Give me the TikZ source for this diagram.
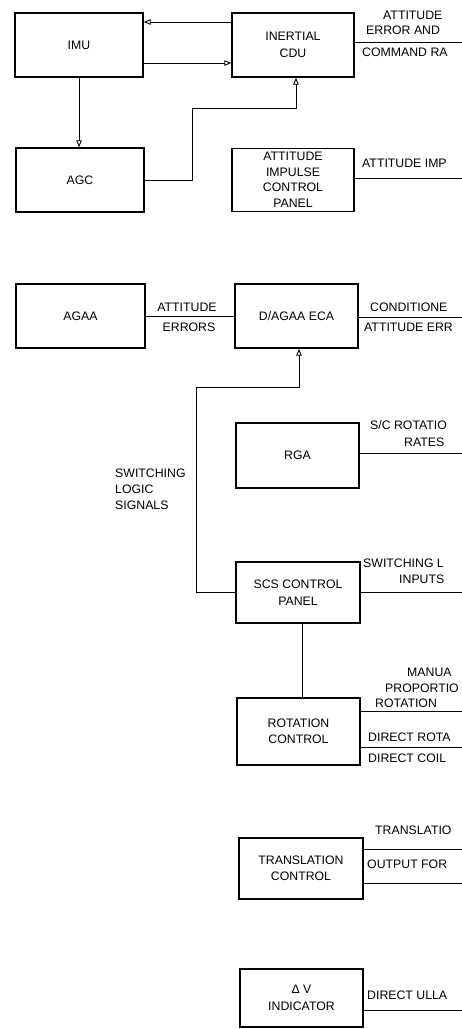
\documentclass[tikz,border=0pt]{standalone}
\usepackage{fontspec}
\setmainfont{Liberation Sans}
\usetikzlibrary{arrows.meta}
\newcommand{\lblfont}{\fontsize{12.3}{16.5}\selectfont}
\begin{document}
\begin{tikzpicture}[x=1pt,y=-1pt,
  box/.style={draw, line width=1.4pt, rectangle, inner sep=0pt, align=center, font=\lblfont},
  lbl/.style={font=\lblfont, inner sep=0pt, text height=8.8pt, text depth=0pt},
  ln/.style={line width=0.9pt},
  arr/.style={ln, -{Triangle[open,length=7pt,width=5.5pt]}}]
\useasboundingbox (0,0) rectangle (462,1029);

% boxes
\node[box, minimum width=128pt, minimum height=64pt] (imu) at (79,45) {IMU};
\node[box, minimum width=122pt, minimum height=64pt] (cdu) at (293,45) {INERTIAL\\CDU};
\node[box, minimum width=128pt, minimum height=64pt] (agc) at (80,180) {AGC};
\node[box, minimum width=122pt, minimum height=63pt, font=\fontsize{12.3}{15.5}\selectfont] (aic) at (293,180) {ATTITUDE\\IMPULSE\\CONTROL\\PANEL};
\node[box, minimum width=129pt, minimum height=64pt] (agaa) at (80.5,316) {AGAA};
\node[box, minimum width=123pt, minimum height=64pt] (eca) at (296.5,316) {D/AGAA ECA};
\node[box, minimum width=123pt, minimum height=65pt] (rga) at (297.5,455.5) {RGA};
\node[box, minimum width=124pt, minimum height=61pt] (scs) at (298,592.5) {SCS CONTROL\\PANEL};
\node[box, minimum width=123pt, minimum height=67pt] (rot) at (298.5,731.5) {ROTATION\\CONTROL};
\node[box, minimum width=124pt, minimum height=61pt] (trn) at (301,868.5) {TRANSLATION\\CONTROL};
\node[box, minimum width=123pt, minimum height=58pt] (dv) at (301.5,998) {Δ V\\INDICATOR};

% connectors between boxes
\draw[arr] ([yshift=23pt]cdu.west) -- ([yshift=23pt]imu.east);
\draw[arr] ([yshift=-18pt]imu.east) -- ([yshift=-18pt]cdu.west);
\draw[arr] (imu.south) -- (imu.south |- agc.north);
\coordinate (k1) at (192,108);
\draw[arr] (agc.east) -| (k1) -| ([xshift=3pt]cdu.south);
\draw[ln] (agaa.east) -- (eca.west);
\coordinate (s1) at (196,387);
\draw[arr] (scs.west) -| (s1) -| ([xshift=2.5pt]eca.south);
\draw[ln] ([xshift=4pt]scs.south) -- ([xshift=4pt]scs.south |- rot.north);

% labels on internal connectors
\node[lbl] (la1) at (187,307) {ATTITUDE};
\node[lbl] (la2) at (189,327) {ERRORS};
\node[font=\fontsize{12.3}{16}\selectfont, inner sep=0pt, anchor=west, align=left] (sw) at (115,489) {SWITCHING\\LOGIC\\SIGNALS};

% output lines to the right edge
\coordinate (e1) at (462,42);
\coordinate (e2) at (462,178);
\coordinate (e3) at (462,317);
\coordinate (e4) at (462,453);
\coordinate (e5) at (462,592);
\coordinate (e6) at (462,711);
\coordinate (e7) at (462,747);
\coordinate (e8) at (462,849);
\coordinate (e9) at (462,883);
\coordinate (e10) at (462,1010);
\draw[ln] (cdu.east |- e1) -- (e1);
\draw[ln] (aic.east |- e2) -- (e2);
\draw[ln] (eca.east |- e3) -- (e3);
\draw[ln] (rga.east |- e4) -- (e4);
\draw[ln] (scs.east |- e5) -- (e5);
\draw[ln] (rot.east |- e6) -- (e6);
\draw[ln] (rot.east |- e7) -- (e7);
\draw[ln] (trn.east |- e8) -- (e8);
\draw[ln] (trn.east |- e9) -- (e9);
\draw[ln] (dv.east |- e10) -- (e10);

% output labels
\node[lbl, anchor=west] (o1) at (383,15) {ATTITUDE};
\node[lbl, anchor=west] (o2) at (366,30) {ERROR AND};
\node[lbl, anchor=west] (o3) at (362,52) {COMMAND RA};
\node[lbl, anchor=west] (o4) at (362,163) {ATTITUDE IMP};
\node[lbl, anchor=west] (o5) at (370,307) {CONDITIONE};
\node[lbl, anchor=west] (o6) at (364,327) {ATTITUDE ERR};
\node[lbl, anchor=west] (o7) at (370,425) {S/C ROTATIO};
\node[lbl, anchor=west] (o8) at (404,442) {RATES};
\node[lbl, anchor=west] (o9) at (363,563) {SWITCHING L};
\node[lbl, anchor=west] (o10) at (399,579) {INPUTS};
\node[lbl, anchor=west] (o11) at (407,672) {MANUA};
\node[lbl, anchor=west] (o12) at (385,688) {PROPORTIO};
\node[lbl, anchor=west] (o13) at (375,703) {ROTATION};
\node[lbl, anchor=west] (o14) at (368,737) {DIRECT ROTA};
\node[lbl, anchor=west] (o15) at (368,758) {DIRECT COIL};
\node[lbl, anchor=west] (o16) at (375,830) {TRANSLATIO};
\node[lbl, anchor=west] (o17) at (367,864) {OUTPUT FOR};
\node[lbl, anchor=west] (o18) at (367,995) {DIRECT ULLA};
\end{tikzpicture}
\end{document}
